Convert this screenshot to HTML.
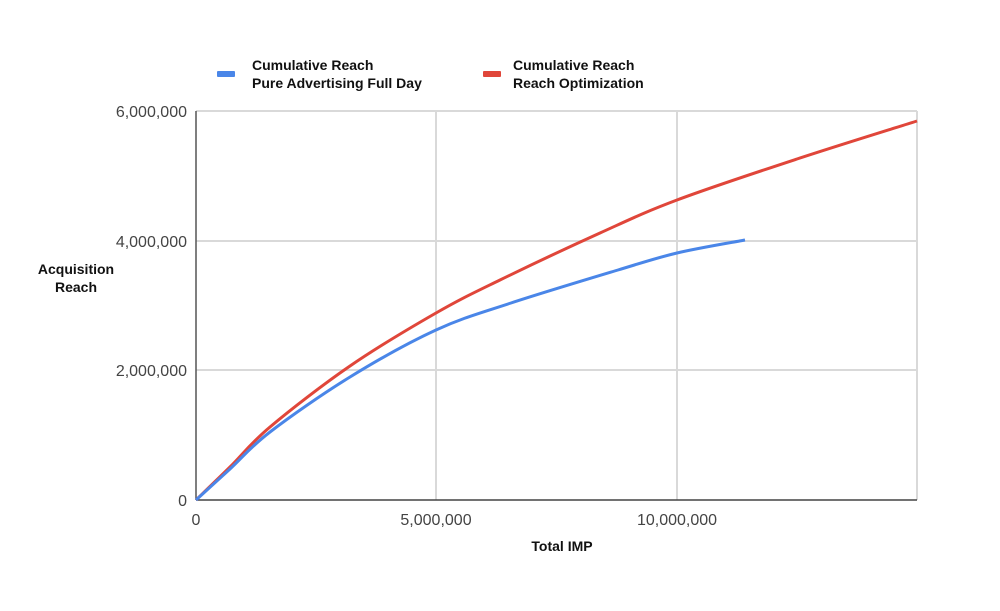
<!DOCTYPE html>
<html><head><meta charset="utf-8"><style>
body{margin:0;background:#fff;}
svg{display:block;font-family:"Liberation Sans",sans-serif;}
</style></head><body>
<svg width="1000" height="611" viewBox="0 0 1000 611">
<rect width="1000" height="611" fill="#fff"/>
<g stroke="#d9d9d9" stroke-width="2">
<line x1="196" y1="111" x2="917" y2="111"/>
<line x1="196" y1="241" x2="917" y2="241"/>
<line x1="196" y1="370" x2="917" y2="370"/>
<line x1="436" y1="111" x2="436" y2="500"/>
<line x1="677" y1="111" x2="677" y2="500"/>
<line x1="917" y1="111" x2="917" y2="500"/>
</g>
<line x1="196" y1="500" x2="917" y2="500" stroke="#444" stroke-width="1.5"/>
<line x1="196" y1="111" x2="196" y2="500" stroke="#555" stroke-width="1.5"/>
<g font-size="16" fill="#444" text-anchor="end">
<text x="187" y="117">6,000,000</text>
<text x="187" y="247">4,000,000</text>
<text x="187" y="376">2,000,000</text>
<text x="187" y="506">0</text>
</g>
<g font-size="16" fill="#444" text-anchor="middle">
<text x="196" y="525">0</text>
<text x="436" y="525">5,000,000</text>
<text x="677" y="525">10,000,000</text>
</g>
<g font-size="14" fill="#111" font-weight="bold">
<text x="562" y="551" text-anchor="middle">Total IMP</text>
<text x="76" y="274" text-anchor="middle">Acquisition</text>
<text x="76" y="292" text-anchor="middle">Reach</text>
<text x="252" y="70">Cumulative Reach</text>
<text x="252" y="88">Pure Advertising Full Day</text>
<text x="513" y="70">Cumulative Reach</text>
<text x="513" y="88">Reach Optimization</text>
</g>
<rect x="217" y="71" width="18" height="6" rx="1" fill="#4a86e8"/>
<rect x="483" y="71" width="18" height="6" rx="1" fill="#e0463a"/>
<path id="red" d="M196,500 L230,467 L270,427 L350,366 L436,313 L500,280 L600,233 L677,200 L917,121" fill="none" stroke="#e0463a" stroke-width="3" stroke-linejoin="round"/>
<path id="blue" d="M196,500 L230,469 L270,432 L350,377 L436,330 L511,303 L618,270 L677,253 L745,240" fill="none" stroke="#4a86e8" stroke-width="3" stroke-linejoin="round"/>
</svg>
<script>
function cr(p){var d="M"+p[0][0]+","+p[0][1];for(var i=0;i<p.length-1;i++){var a=p[i-1]||p[i],b=p[i],c=p[i+1],e=p[i+2]||c;
d+=" C"+(b[0]+(c[0]-a[0])/6)+","+(b[1]+(c[1]-a[1])/6)+" "+(c[0]-(e[0]-b[0])/6)+","+(c[1]-(e[1]-b[1])/6)+" "+c[0]+","+c[1];}return d;}
document.getElementById("red").setAttribute("d",cr([[196,500],[230,467],[270,427],[350,366],[436,313],[500,280],[600,233],[677,200],[797,159],[917,121]]));
document.getElementById("blue").setAttribute("d",cr([[196,500],[230,469],[270,432],[350,377],[436,330],[511,303],[618,270],[677,253],[745,240]]));
</script>
</body></html>
